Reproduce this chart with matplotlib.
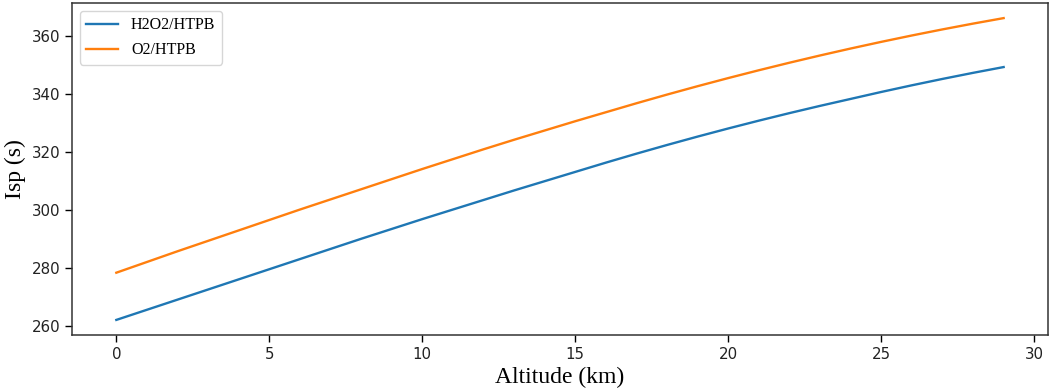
import numpy as np
import matplotlib
matplotlib.use("Agg")
import matplotlib.pyplot as plt

# altitude in km, specific impulse in s
altitude = list(range(0, 30))
isp_h2o2 = [262.0, 265.5, 269.0, 272.5, 276.0, 279.5, 283.0, 286.5, 290.0, 293.4,
            296.8, 300.1, 303.4, 306.7, 309.9, 313.1, 316.3, 319.4, 322.4, 325.3,
            328.1, 330.8, 333.4, 335.9, 338.3, 340.7, 343.0, 345.2, 347.3, 349.3]
isp_o2 = [278.3, 282.0, 285.7, 289.3, 292.9, 296.5, 300.1, 303.6, 307.1, 310.6,
          314.1, 317.5, 320.9, 324.2, 327.4, 330.6, 333.7, 336.8, 339.8, 342.7,
          345.5, 348.2, 350.8, 353.3, 355.7, 358.0, 360.2, 362.3, 364.3, 366.2]
labels = ["H2O2/HTPB", "O2/HTPB"]

serif = "Liberation Serif"

fig = plt.figure(figsize=(10.52, 3.92), dpi=100)
ax = fig.add_axes([0.0684, 0.1454, 0.9278, 0.8469])

ax.plot(altitude, isp_h2o2, color="#1f77b4", lw=1.7, label=labels[0])
ax.plot(altitude, isp_o2, color="#ff7f0e", lw=1.7, label=labels[1])

ax.set_yticks([260, 280, 300, 320, 340, 360])
ax.set_xticks([0, 5, 10, 15, 20, 25, 30])
ax.tick_params(labelsize=10.8, labelcolor="#222222", length=5, width=1.0)
for s in ax.spines.values():
    s.set_linewidth(1.1)
    s.set_color("#333333")

ax.set_xlabel("Altitude (km)", fontfamily=serif, fontsize=17, labelpad=4)
ax.set_ylabel("Isp (s)", fontfamily=serif, fontsize=17, labelpad=4)

ax.legend(loc="upper left", prop={"family": serif, "size": 11.5},
          labelspacing=0.55)

fig.savefig("out.png", dpi=100)
